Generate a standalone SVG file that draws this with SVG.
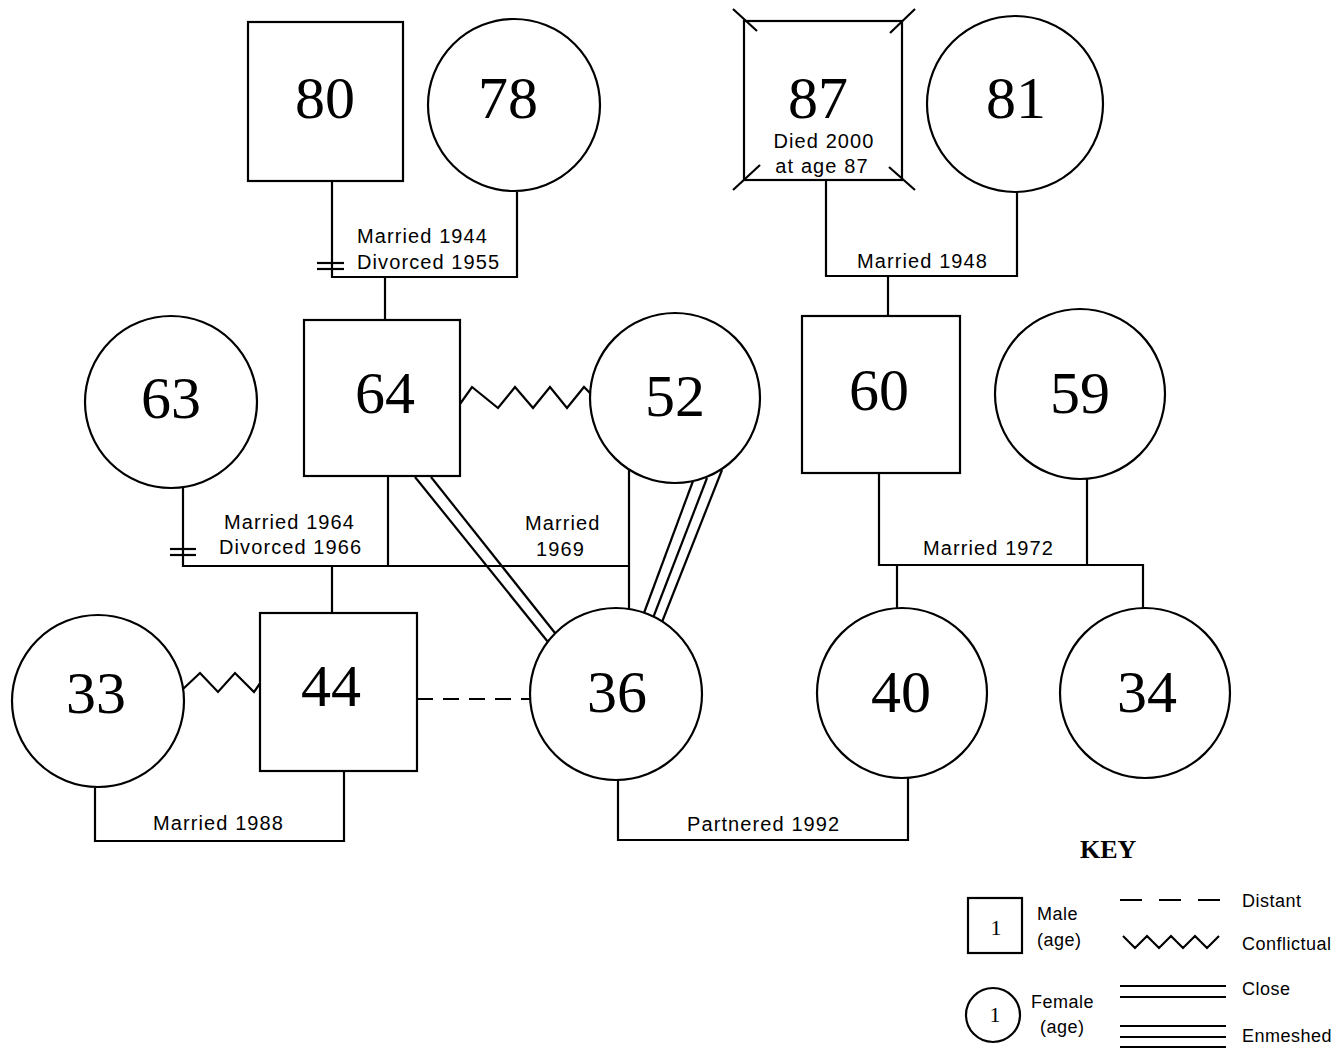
<svg xmlns="http://www.w3.org/2000/svg" width="1338" height="1048" viewBox="0 0 1338 1048">
<style>
.n{fill:#fff;stroke:#000;stroke-width:2.2}
.l{fill:none;stroke:#000;stroke-width:2.2}
.age{font-family:"Liberation Serif","Times New Roman",serif;font-size:60px;text-anchor:middle;fill:#000}
.lb{font-family:"Liberation Sans",Arial,sans-serif;font-size:20px;letter-spacing:1.1px;fill:#000}
.k{font-family:"Liberation Sans",Arial,sans-serif;font-size:18px;letter-spacing:0.5px;fill:#000}
.k1{font-family:"Liberation Serif","Times New Roman",serif;font-size:22px;text-anchor:middle;fill:#000}
</style>
<rect width="1338" height="1048" fill="#fff"/>
<g id="connectors">
  <polyline class="l" points="332,181 332,277 517,277 517,192"/>
  <line class="l" x1="385" y1="277" x2="385" y2="320"/>
  <line class="l" x1="317" y1="263" x2="344" y2="263"/>
  <line class="l" x1="317" y1="269" x2="344" y2="269"/>
  <polyline class="l" points="826,180 826,276 1017,276 1017,192"/>
  <line class="l" x1="888" y1="276" x2="888" y2="317"/>
  <polyline class="l" points="183,488 183,566 629,566"/>
  <line class="l" x1="388" y1="476" x2="388" y2="566"/>
  <line class="l" x1="629" y1="469" x2="629" y2="609"/>
  <line class="l" x1="332" y1="566" x2="332" y2="613"/>
  <line class="l" x1="170" y1="549" x2="196" y2="549"/>
  <line class="l" x1="170" y1="555" x2="196" y2="555"/>
  <polyline class="l" points="460,404 472,387 498,408 515,387 533,408 550,387 567,408 584,387 591,394"/>
  <line class="l" x1="415" y1="477" x2="548" y2="642"/>
  <line class="l" x1="431" y1="477" x2="555" y2="633"/>
  <line class="l" x1="693" y1="481" x2="644" y2="613"/>
  <line class="l" x1="707" y1="478" x2="653" y2="618"/>
  <line class="l" x1="722" y1="470" x2="662" y2="622"/>
  <polyline class="l" points="879,473 879,565 1143,565 1143,608"/>
  <line class="l" x1="1087" y1="479" x2="1087" y2="565"/>
  <line class="l" x1="897" y1="565" x2="897" y2="608"/>
  <polyline class="l" points="183,689 200,673 218,692 235,673 254,692 261,682"/>
  <polyline class="l" points="95,788 95,841 344,841 344,771"/>
  <line class="l" x1="417" y1="699" x2="530" y2="699" stroke-dasharray="16 10"/>
  <polyline class="l" points="618,780 618,840 908,840 908,778"/>
</g>
<g id="labels">
  <text class="lb" x="357" y="243">Married 1944</text>
  <text class="lb" x="357" y="269">Divorced 1955</text>
  <text class="lb" x="857" y="268">Married 1948</text>
  <text class="lb" x="224" y="529">Married 1964</text>
  <text class="lb" x="219" y="554">Divorced 1966</text>
  <text class="lb" x="525" y="530">Married</text>
  <text class="lb" x="536" y="556">1969</text>
  <text class="lb" x="923" y="555">Married 1972</text>
  <text class="lb" x="153" y="830">Married 1988</text>
  <text class="lb" x="687" y="831">Partnered 1992</text>
</g>
<g id="n80"><rect class="n" x="248" y="22" width="155" height="159"/><text class="age" x="325" y="118">80</text></g>
<g id="n78"><circle class="n" cx="514" cy="105" r="86"/><text class="age" x="508" y="118">78</text></g>
<g id="n87">
  <rect class="n" x="744" y="21" width="158" height="159"/>
  <line class="l" x1="733" y1="9" x2="757" y2="31"/>
  <line class="l" x1="890" y1="33" x2="915" y2="9"/>
  <line class="l" x1="733" y1="190" x2="760" y2="165"/>
  <line class="l" x1="889" y1="167" x2="915" y2="190"/>
  <text class="age" x="818" y="118">87</text>
  <text class="lb" x="824" y="148" text-anchor="middle">Died 2000</text>
  <text class="lb" x="822" y="173" text-anchor="middle">at age 87</text>
</g>
<g id="n81"><circle class="n" cx="1015" cy="104" r="88"/><text class="age" x="1016" y="118">81</text></g>
<g id="n63"><circle class="n" cx="171" cy="402" r="86"/><text class="age" x="171" y="418">63</text></g>
<g id="n64"><rect class="n" x="304" y="320" width="156" height="156"/><text class="age" x="385" y="413">64</text></g>
<g id="n52"><circle class="n" cx="675" cy="398" r="85"/><text class="age" x="675" y="416">52</text></g>
<g id="n60"><rect class="n" x="802" y="316" width="158" height="157"/><text class="age" x="879" y="410">60</text></g>
<g id="n59"><circle class="n" cx="1080" cy="394" r="85"/><text class="age" x="1080" y="413">59</text></g>
<g id="n33"><circle class="n" cx="98" cy="701" r="86"/><text class="age" x="96" y="713">33</text></g>
<g id="n44"><rect class="n" x="260" y="613" width="157" height="158"/><text class="age" x="331" y="706">44</text></g>
<g id="n36"><circle class="n" cx="616" cy="694" r="86"/><text class="age" x="617" y="712">36</text></g>
<g id="n40"><circle class="n" cx="902" cy="693" r="85"/><text class="age" x="901" y="712">40</text></g>
<g id="n34"><circle class="n" cx="1145" cy="693" r="85"/><text class="age" x="1147" y="712">34</text></g>
<g id="key">
  <text x="1080" y="858" font-family="'Liberation Serif','Times New Roman',serif" font-size="26" font-weight="bold">KEY</text>
  <rect class="n" x="968" y="898" width="54" height="55"/>
  <text class="k1" x="996" y="935">1</text>
  <text class="k" x="1037" y="920">Male</text>
  <text class="k" x="1037" y="946">(age)</text>
  <circle class="n" cx="993" cy="1015" r="27"/>
  <text class="k1" x="995" y="1022">1</text>
  <text class="k" x="1031" y="1008">Female</text>
  <text class="k" x="1040" y="1033">(age)</text>
  <line class="l" x1="1120" y1="900" x2="1226" y2="900" stroke-dasharray="22 17"/>
  <text class="k" x="1242" y="907">Distant</text>
  <polyline class="l" points="1123,936 1135,948 1147,936 1159,948 1171,936 1183,948 1195,936 1207,948 1219,936"/>
  <text class="k" x="1242" y="950">Conflictual</text>
  <line class="l" x1="1120" y1="986" x2="1226" y2="986"/>
  <line class="l" x1="1120" y1="997" x2="1226" y2="997"/>
  <text class="k" x="1242" y="995">Close</text>
  <line class="l" x1="1120" y1="1026" x2="1226" y2="1026"/>
  <line class="l" x1="1120" y1="1037" x2="1226" y2="1037"/>
  <line class="l" x1="1120" y1="1047" x2="1226" y2="1047" stroke="#bbb"/>
  <text class="k" x="1242" y="1042">Enmeshed</text>
</g>
</svg>
